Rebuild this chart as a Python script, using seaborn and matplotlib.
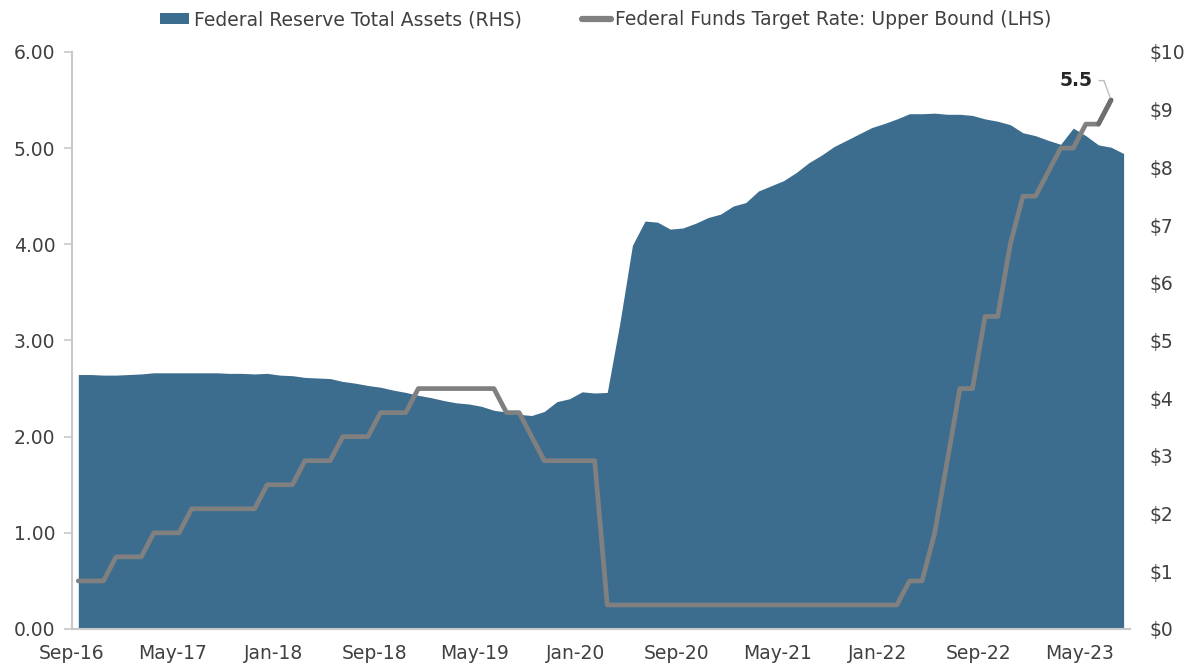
"""Fed balance sheet vs. fed funds upper bound, monthly Sep-16 to Aug-23."""
import numpy as np
import pandas as pd
import seaborn as sns
import matplotlib.pyplot as plt
from matplotlib.patches import Patch
from matplotlib.lines import Line2D

months = pd.date_range("2016-09-01", periods=84, freq="MS")
tick_labels = ["Sep-16", "May-17", "Jan-18", "Sep-18", "May-19", "Jan-20",
               "Sep-20", "May-21", "Jan-22", "Sep-22", "May-23"]

# Federal Reserve total assets, $ trillions (RHS)
total_assets = [
    4.41, 4.41, 4.40, 4.40, 4.41, 4.42, 4.44, 4.44, 4.44, 4.44, 4.44, 4.44,
    4.43, 4.43, 4.42, 4.43, 4.40, 4.39, 4.36, 4.35, 4.34, 4.29, 4.26, 4.22,
    4.19, 4.14, 4.10, 4.05, 4.01, 3.96, 3.92, 3.90, 3.86, 3.79, 3.76, 3.72,
    3.70, 3.77, 3.94, 3.99, 4.11, 4.09, 4.10, 5.30, 6.65, 7.07, 7.05, 6.93,
    6.95, 7.03, 7.13, 7.19, 7.33, 7.39, 7.59, 7.68, 7.77, 7.91, 8.08, 8.21,
    8.36, 8.47, 8.58, 8.69, 8.76, 8.84, 8.93, 8.93, 8.94, 8.92, 8.92, 8.90,
    8.84, 8.80, 8.74, 8.60, 8.55, 8.47, 8.40, 8.68, 8.55, 8.39, 8.35, 8.24,
]

# Federal funds target rate, upper bound, % (LHS)
fed_funds = [
    0.50, 0.50, 0.50, 0.75, 0.75, 0.75, 1.00, 1.00, 1.00, 1.25, 1.25, 1.25,
    1.25, 1.25, 1.25, 1.50, 1.50, 1.50, 1.75, 1.75, 1.75, 2.00, 2.00, 2.00,
    2.25, 2.25, 2.25, 2.50, 2.50, 2.50, 2.50, 2.50, 2.50, 2.50, 2.25, 2.25,
    2.00, 1.75, 1.75, 1.75, 1.75, 1.75, 0.25, 0.25, 0.25, 0.25, 0.25, 0.25,
    0.25, 0.25, 0.25, 0.25, 0.25, 0.25, 0.25, 0.25, 0.25, 0.25, 0.25, 0.25,
    0.25, 0.25, 0.25, 0.25, 0.25, 0.25, 0.50, 0.50, 1.00, 1.75, 2.50, 2.50,
    3.25, 3.25, 4.00, 4.50, 4.50, 4.75, 5.00, 5.00, 5.25, 5.25, 5.50, np.nan,
]

df = pd.DataFrame({"month": months, "assets": total_assets, "rate": fed_funds})
df["pos"] = np.arange(len(df))

area_color = "#3d6d8e"
line_color = "#808080"
text_color = "#404040"
axis_color = "#c8c8c8"
fs = 13.5

sns.set_style("white")
plt.rcParams["font.family"] = ["DejaVu Sans"]

fig = plt.figure(figsize=(11.88, 6.69), dpi=100)
ax = fig.add_axes([0.0606, 0.0598, 0.8905, 0.8625])

# area: total assets
ax.fill_between(df["pos"], 0, df["assets"], color=area_color, lw=0)
ax.set_ylim(0, 10)
ax.set_yticks(range(0, 11))
ax.set_yticklabels([f"${v}" for v in range(0, 11)])

# line: fed funds on twin axis so it draws above the area
ax2 = ax.twinx()
sns.lineplot(data=df, x="pos", y="rate", ax=ax2, color=line_color,
             linewidth=3.4, solid_capstyle="round")
last = df.dropna().tail(2)
ax2.plot(last["pos"], last["rate"], color="#6e6e6e", lw=3.4,
         solid_capstyle="round")
ax2.set_ylim(0, 6)
ax2.set_yticks(range(0, 7))
ax2.set_yticklabels([f"{v:.2f}" for v in range(0, 7)])
ax2.set_xlabel("")
ax2.set_ylabel("")

# swap sides: rate on the left, assets on the right
ax.yaxis.tick_right()
ax2.yaxis.tick_left()
ax.set_xlim(-0.5, 83.5)
ax.set_xticks(np.arange(-0.5, 84, 8))
ax.set_xticklabels(tick_labels)

for a in (ax, ax2):
    for s in a.spines.values():
        s.set_visible(False)
ax.spines["bottom"].set_visible(True)
ax.spines["bottom"].set_color(axis_color)
ax.spines["bottom"].set_linewidth(1.5)
ax2.spines["left"].set_visible(True)
ax2.spines["left"].set_color(axis_color)
ax2.spines["left"].set_linewidth(1.5)

ax.tick_params(axis="x", colors=axis_color, direction="out", length=6,
               width=1.2, labelcolor=text_color, labelsize=fs, pad=5)
ax.tick_params(axis="y", length=0, labelcolor=text_color, labelsize=fs,
               pad=14)
ax2.tick_params(axis="y", colors=axis_color, direction="out", length=6,
                width=1.2, labelcolor=text_color, labelsize=fs, pad=6)

# last value label
end = df.dropna().iloc[-1]
ax2.annotate("5.5", xy=(end["pos"], end["rate"]), xytext=(-13, 14),
             textcoords="offset points", ha="right", va="center",
             fontsize=fs, fontweight="bold", color="#262626",
             arrowprops=dict(arrowstyle="-", color="#bfbfbf", lw=1,
                             shrinkA=2, shrinkB=2,
                             connectionstyle="angle,angleA=0,angleB=110,rad=0"))

handles = [Patch(facecolor=area_color, edgecolor="none"),
           Line2D([0], [0], color=line_color, lw=4.5, solid_capstyle="round")]
labels = ["Federal Reserve Total Assets (RHS)",
          "Federal Funds Target Rate: Upper Bound (LHS)"]
fig.legend(handles, labels, loc="upper center", bbox_to_anchor=(0.51, 1.01),
           ncol=2, frameon=False, fontsize=fs, labelcolor=text_color,
           handlelength=1.55, handleheight=0.55, handletextpad=0.25,
           columnspacing=3.2)

fig.savefig("out.png", dpi=100)
